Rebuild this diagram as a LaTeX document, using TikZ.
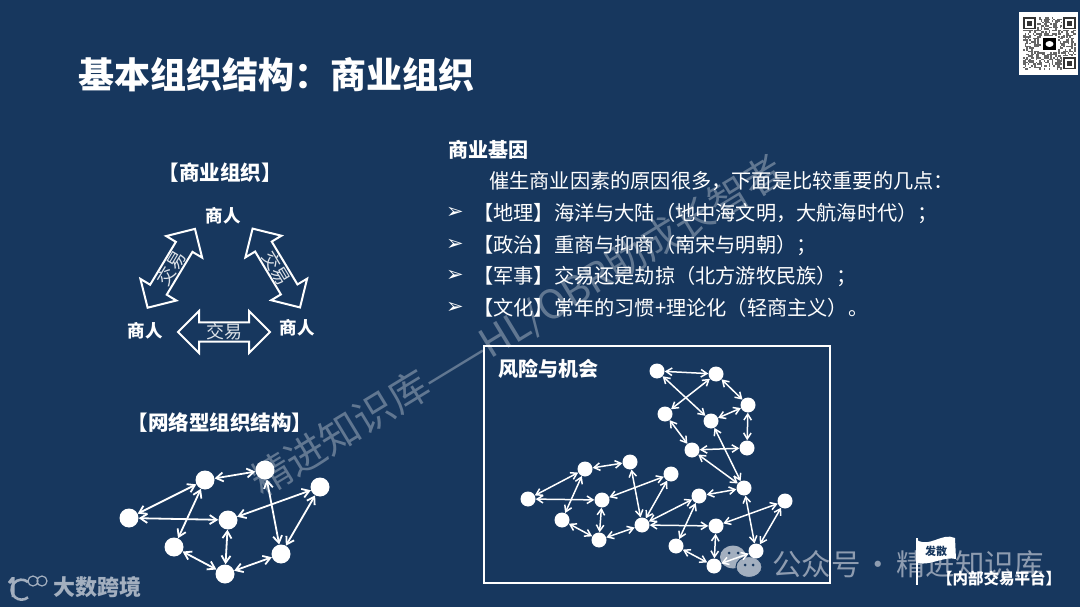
\documentclass[tikz,border=0pt]{standalone}
\usepackage{fontspec}
\setmainfont{Noto Sans CJK SC}
\newfontfamily\symfont{DejaVu Sans}
\usepackage{tikz}
\usetikzlibrary{arrows.meta, positioning, shapes.arrows}
\definecolor{navy}{HTML}{17375E}
\definecolor{logogray}{HTML}{A3AFBF}
\definecolor{wechatgray}{HTML}{8E9CB0}
\newcommand{\fs}[1]{\fontsize{#1}{#1}\selectfont}

\begin{document}
\begin{tikzpicture}[
    x=1pt, y=-1pt,
    txt/.style={text=white, inner sep=0pt, anchor=west, font=\fs{20.2}},
    head/.style={text=white, inner sep=0pt, font=\fs{20.5}\bfseries},
    who/.style={text=white, inner sep=0pt, font=\fs{17.5}\bfseries},
    trade/.style={double arrow, draw=white, line width=2pt, text=white!85!navy, inner sep=0pt, font=\fs{18},
        minimum height=92pt, minimum width=42pt, double arrow head extend=11pt},
    bigdot/.style={circle, fill=white, inner sep=0pt, minimum size=19pt},
    dot/.style={circle, fill=white, inner sep=0pt, minimum size=15pt},
    arr/.style={{Straight Barb[length=7pt,width=9pt]}-{Straight Barb[length=7pt,width=9pt]}, line width=1.8pt, white},
    thinarr/.style={{Straight Barb[length=6pt,width=7.5pt]}-{Straight Barb[length=6pt,width=7.5pt]}, line width=1.5pt, white}
]
\fill[navy] (0,0) rectangle (1080,607);

\node[txt, font=\fs{36}\bfseries] (title) at (78,75) {基本组织结构：商业组织};

% trading triangle
\node[head] (tradehead) at (220,173) {【商业组织】};
\node[who] (top) at (223,216) {商人};
\node[who] (left) at (145,331) {商人};
\node[who] (right) at (297,328) {商人};
\node[trade, rotate=59] (tradel) at (171.3,268.3) {交易};
\node[trade, rotate=-59] (trader) at (276.3,268) {交易};
\node[trade] (tradeb) at (224,332) {交易};

% small network
\node[head] (nethead) at (220,423) {【网络型组织结构】};
\node[bigdot] (n1) at (129,518) {};
\node[bigdot] (n2) at (205,480) {};
\node[bigdot] (n3) at (265,470) {};
\node[bigdot] (n4) at (320,487) {};
\node[bigdot] (n5) at (228,520) {};
\node[bigdot] (n6) at (174,547) {};
\node[bigdot] (n7) at (225,574) {};
\node[bigdot] (n8) at (281,554) {};
\foreach \a/\b in {n1/n2, n2/n3, n1/n5, n2/n6, n3/n8, n4/n5, n4/n8, n5/n7, n6/n7, n7/n8}
    \draw[arr] (\a) -- (\b);

% text block
\node[txt, font=\fs{20}\bfseries] (gene) at (448,150) {商业基因};
\node[txt] (intro) at (489,181) {催生商业因素的原因很多，下面是比较重要的几点：};
\foreach \i/\ypos/\line in {1/213/【地理】海洋与大陆（地中海文明，大航海时代）；,
    2/245/【政治】重商与抑商（南宋与明朝）；,
    3/276/【军事】交易还是劫掠（北方游牧民族）；,
    4/308/【文化】常年的习惯+理论化（轻商主义）。} {
    \node[txt, font=\symfont\fs{21}] (tick\i) at (446,\ypos) {➢};
    \node[txt] (line\i) at (473,\ypos) {\line};
}

% wechat logo
\fill[logogray] (733,557) ellipse (13pt and 11.5pt);
\fill[logogray, draw=navy, line width=1pt] (749,567) ellipse (13pt and 10.5pt);
\fill[navy] (729,553) circle (1.5pt) (738,553) circle (1.5pt) (745,565) circle (1.5pt) (753,565) circle (1.5pt);

% risk box
\node[draw=white, line width=1.8pt, inner sep=0pt, minimum width=346pt, minimum height=237pt] (riskbox) at (657,464.5) {};
\node[txt, font=\fs{20}\bfseries] (risk) at (498,369) {风险与机会};
\node[dot] (a1) at (528,499) {};
\node[dot] (a2) at (585,469) {};
\node[dot] (a3) at (630,462) {};
\node[dot] (a4) at (602,500) {};
\node[dot] (a5) at (562,520) {};
\node[dot] (a6) at (599,540) {};
\node[dot] (a7) at (642,525) {};
\node[dot] (a8) at (671,474) {};
\node[dot] (b1) at (657,371) {};
\node[dot] (b2) at (716,374) {};
\node[dot] (b3) at (748,405) {};
\node[dot] (b4) at (665,414) {};
\node[dot] (b5) at (711,421) {};
\node[dot] (b6) at (692,450) {};
\node[dot] (b7) at (747,448) {};
\node[dot] (c1) at (744,488) {};
\node[dot] (c2) at (699,496) {};
\node[dot] (c3) at (785,501) {};
\node[dot] (c4) at (716,526) {};
\node[dot] (c5) at (676,546) {};
\node[dot] (c6) at (756,551) {};
\node[dot] (c7) at (714,566) {};
\foreach \a/\b in {a1/a2, a2/a3, a1/a4, a2/a5, a3/a7, a8/a4, a8/a7, a4/a6, a5/a6, a6/a7, a7/c2, a7/c4,
    b1/b2, b1/b5, b2/b4, b2/b3, b3/b5, b3/b7, b4/b6, b6/b7, b6/c1, b5/c1, c1/c2, c1/c6, c2/c5,
    c4/c3, c3/c6, c4/c7, c5/c7, c6/c7}
    \draw[thinarr] (\a) -- (\b);

% watermark
\node[text=white, text opacity=.32, inner sep=0pt, rotate=31.3, font=\fs{40}] (wm) at (518,327) {精进知识库——HL/OBR助成长智者};
\node[txt, text=wechatgray, font=\fs{29.5}] (wechat) at (772,564) {公众号\hspace{3pt}·\hspace{3pt}精进知识库};

% flag
\node[txt, font=\fs{15.5}\bfseries] (platform) at (937,578) {【内部交易平台】};
\draw[white, line width=1.4pt] (917,538) -- (917,585);
\fill[white] (917,540) .. controls (930,548) and (942,532) .. (955,538) -- (956,559)
    .. controls (944,556) and (930,566) .. (918,563) -- cycle;
\node[inner sep=0pt, text=navy, font=\fs{11}\bfseries] (flagtxt) at (936,551) {发散};

% brand logo
\draw[logogray, line width=3pt] (13,577) -- (13,597) (9,583) -- (13,578);
\draw[logogray, line width=2.6pt] (28,582) arc[start angle=50, end angle=310, radius=10pt];
\draw[logogray, line width=1.2pt] (33,581) circle (5pt) (42,581) circle (5pt);
\node[txt, text=logogray, font=\fs{22}\bfseries] (brand) at (53,587) {大数跨境};

% qr block
\fill[white] (1019,12) rectangle (1078,75);
\pgfmathsetseed{11}
\foreach \i in {0,...,32} \foreach \j in {0,...,32} {
    \pgfmathparse{rnd<0.48 ? 1 : 0}
    \ifnum\pgfmathresult=1
        \fill[black!60] (1023+1.6*\i,17+1.6*\j) rectangle ++(1.6,1.6);
    \fi
}
\foreach \cx/\cy in {1023/17, 1063/17, 1063/57} {
    \fill[white] (\cx-1,\cy-1) rectangle ++(14.5,14.5);
    \fill[black!80] (\cx,\cy) rectangle ++(12.5,12.5);
    \fill[white] (\cx+1.8,\cy+1.8) rectangle ++(8.9,8.9);
    \fill[black!80] (\cx+3.6,\cy+3.6) rectangle ++(5.3,5.3);
}
\fill[white] (1041,36) rectangle (1058,52);
\fill[black] (1043,38) rectangle (1056,50);
\fill[white] (1049.5,44) ellipse (4pt and 3pt);
\end{tikzpicture}
\end{document}
